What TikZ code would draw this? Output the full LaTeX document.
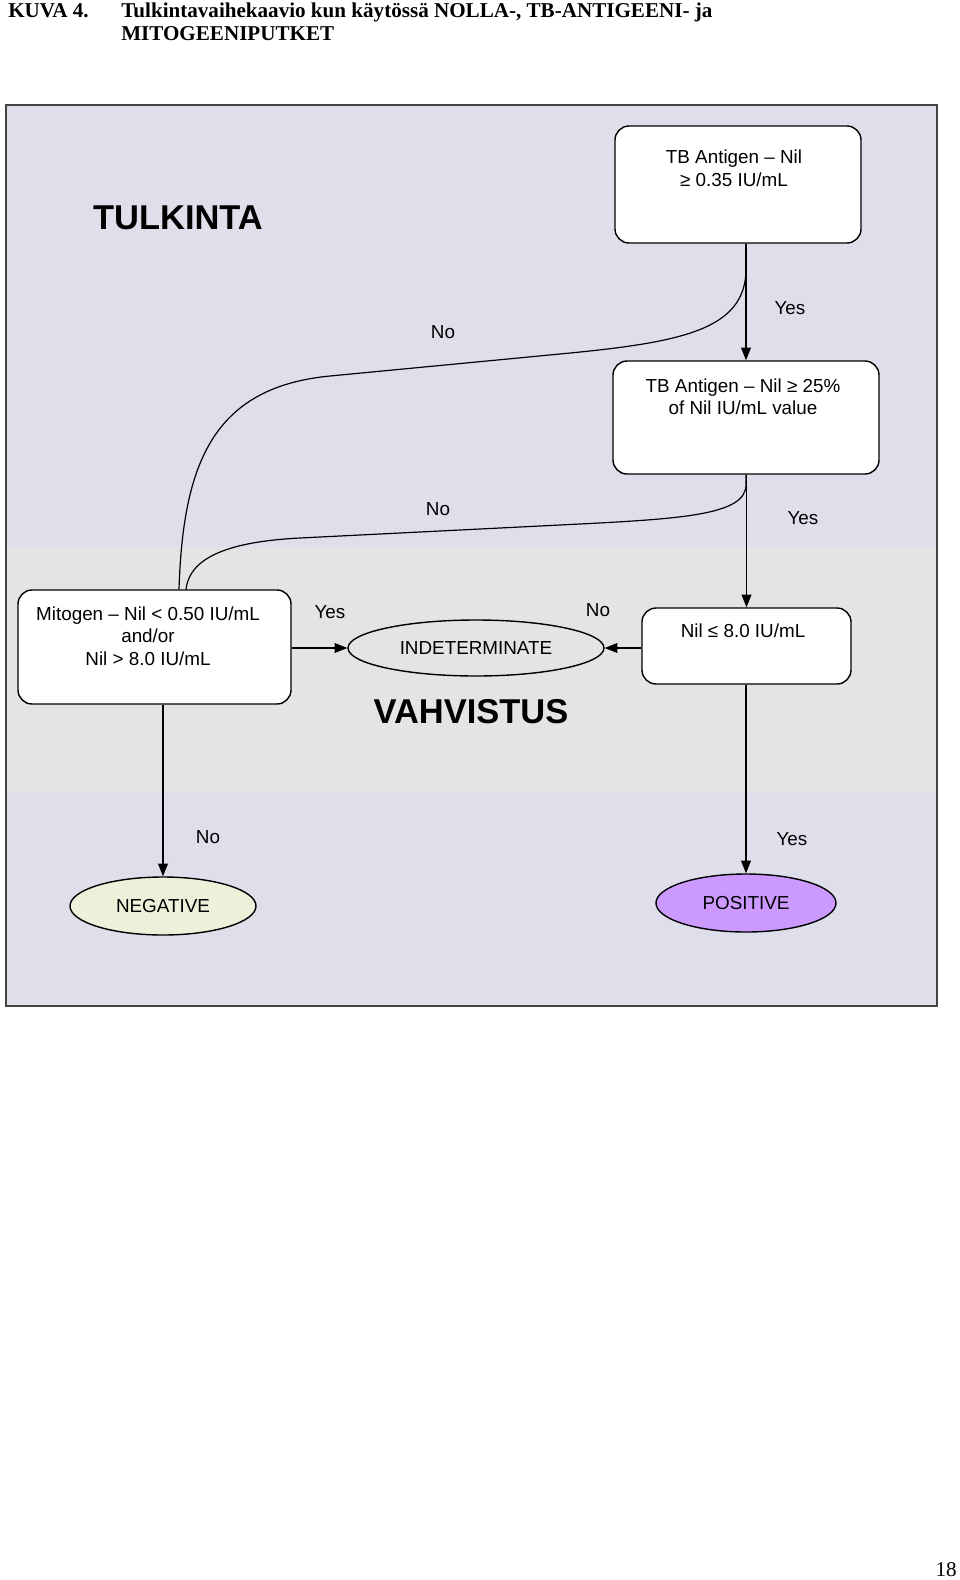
\documentclass[tikz,border=0pt]{standalone}
\usepackage{fontspec}
\setmainfont{Liberation Sans}
\newfontfamily\headserif{Liberation Serif}
\usetikzlibrary{calc,positioning,shapes.geometric,arrows.meta}
\definecolor{lavender}{HTML}{DFDFEC}
\definecolor{bandgrey}{HTML}{E4E4E4}
\definecolor{negfill}{HTML}{EEF0DA}
\definecolor{posfill}{HTML}{CC99FF}
\definecolor{framegrey}{HTML}{444444}
\newlength\unitpx
\setlength\unitpx{0.025cm}

\begin{document}
\begin{tikzpicture}[x=\unitpx,y=-\unitpx,
	every node/.style={font=\fontsize{13.4}{16}\selectfont, inner sep=0pt},
	box/.style={draw, line width=1pt, fill=white, rounded corners=10pt},
	result/.style={draw, ellipse, line width=1pt},
	title/.style={font=\fontsize{24.5}{28}\selectfont\bfseries},
	head/.style={font=\fontsize{15}{18}\selectfont\headserif\bfseries, anchor=base west},
	flow/.style={line width=0.85pt, -{Triangle[length=9pt,width=7pt]}},
	link/.style={line width=0.85pt}]
	\fill [white] (0,0) rectangle (960,1580);
	\useasboundingbox (0,0) rectangle (960,1580);
	\fill [lavender] (6,105) rectangle (937,1006);
	\fill [bandgrey] (6,547) rectangle (937,792);
	\draw [framegrey, line width=1.2pt] (6,105) rectangle (937,1006);
	\node [head] (kuva) at (8,17) {KUVA 4.};
	\node [head] (caption1) at (121,17) {Tulkintavaihekaavio kun käytössä NOLLA-, TB-ANTIGEENI- ja};
	\node [head] (caption2) at (121,40) {MITOGEENIPUTKET};
	\node [title] (tulkinta) at (178,218) {TULKINTA};
	\node [title] (vahvistus) at (471,712) {VAHVISTUS};
	\node [box, minimum width=246\unitpx, minimum height=117\unitpx] (antigen) at (738,184.5) {};
	\node [align=center] (antigen-txt) at (734,168.5) {TB Antigen – Nil\\ ≥ 0.35 IU/mL};
	\node [box, minimum width=266\unitpx, minimum height=113\unitpx] (percent) at (746,417.5) {};
	\node [align=center] (percent-txt) at (743,397) {TB Antigen – Nil ≥ 25\%\\ of Nil IU/mL value};
	\node [box, minimum width=273\unitpx, minimum height=114\unitpx] (mitogen) at (154.5,647) {};
	\node [align=center] (mitogen-txt) at (148,636) {Mitogen – Nil < 0.50 IU/mL\\ and/or\\ Nil > 8.0 IU/mL};
	\node [box, minimum width=209\unitpx, minimum height=76\unitpx] (nil) at (746.5,646) {};
	\node (nil-txt) at (743,631) {Nil ≤ 8.0 IU/mL};
	\node [result, fill=bandgrey, minimum width=256\unitpx, minimum height=56\unitpx] (indet) at (476,648) {INDETERMINATE};
	\node [result, fill=negfill, minimum width=186\unitpx, minimum height=58\unitpx] (negative) at (163,906) {NEGATIVE};
	\node [result, fill=posfill, minimum width=180\unitpx, minimum height=58\unitpx] (positive) at (746,903) {POSITIVE};
	\draw [flow] (percent |- antigen.south) -- (percent.north);
	\draw [link] (percent |- antigen.south) -- ++(0,25) .. controls ++(0,62) and (680,342.5) .. (560,354) -- (330,376) .. controls (212,387.3) and (183,465) .. ($(mitogen.north)+(24.5,0)$);
	\draw [link] (percent.south) -- ++(0,10) .. controls ++(0,31) and (680,519) .. (560,525) -- (300,538) .. controls (212,542.4) and (189,565) .. ($(mitogen.north)+(31.5,0)$);
	\draw [flow] (nil |- percent.south) -- (nil.north);
	\draw [flow] (mitogen.east |- indet) -- (indet.west);
	\draw [flow] (nil.west |- indet) -- (indet.east);
	\draw [flow] (negative |- mitogen.south) -- (negative.north);
	\draw [flow] (positive |- nil.south) -- (positive.north);
	\node (yes1) at (790,308) {Yes};
	\node (no1) at (443,332) {No};
	\node (no2) at (438,509) {No};
	\node (yes2) at (803,518) {Yes};
	\node (yes3) at (330,612) {Yes};
	\node (no3) at (598,610) {No};
	\node (no4) at (208,837) {No};
	\node (yes4) at (792,839) {Yes};
	\node [font=\fontsize{15}{18}\selectfont\headserif, anchor=base east] (pageno) at (957,1576) {18};
\end{tikzpicture}
\end{document}
